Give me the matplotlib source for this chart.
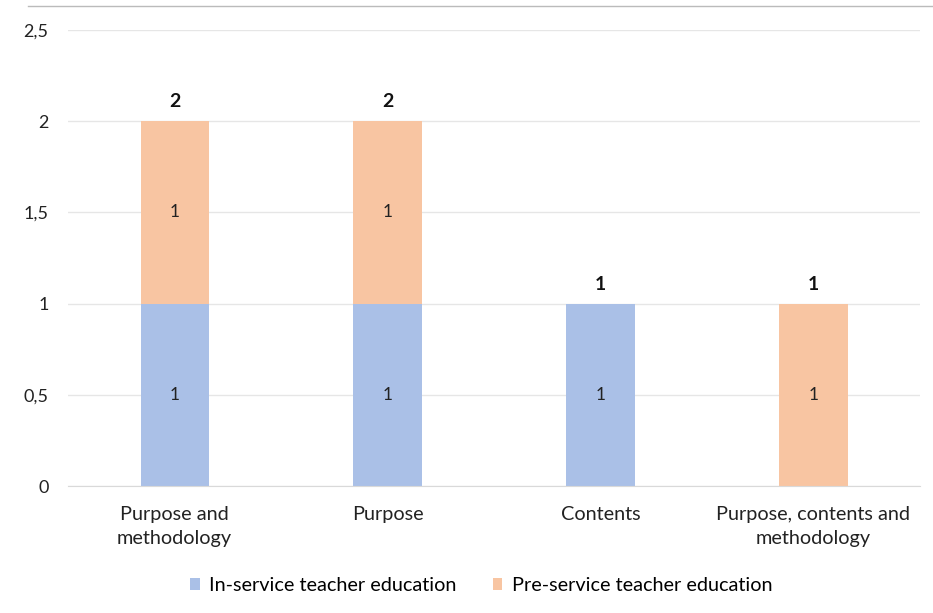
import matplotlib.pyplot as plt
from matplotlib.ticker import FuncFormatter

plt.rcParams['font.family'] = ['Lato', 'DejaVu Sans']

categories = ['Purpose and\nmethodology', 'Purpose', 'Contents', 'Purpose, contents and\nmethodology']
in_service = [1, 1, 1, 0]
pre_service = [1, 1, 0, 1]
totals = [a + b for a, b in zip(in_service, pre_service)]

blue = '#AAC0E7'
orange = '#F8C5A2'

fig = plt.figure(figsize=(9.33, 6.13), dpi=100)
ax = fig.add_axes([0.073, 0.207, 0.913, 0.744])

x = range(len(categories))
width = 0.32
b1 = ax.bar(x, in_service, width, color=blue, label='In-service teacher education', zorder=2)
b2 = ax.bar(x, pre_service, width, bottom=in_service, color=orange,
            label='Pre-service teacher education', zorder=2)

for i in x:
    if in_service[i]:
        ax.text(i, in_service[i] / 2, str(in_service[i]), ha='center', va='center',
                fontsize=12.5, color='#222222')
    if pre_service[i]:
        ax.text(i, in_service[i] + pre_service[i] / 2, str(pre_service[i]), ha='center',
                va='center', fontsize=12.5, color='#222222')
    ax.text(i, totals[i] + 0.06, str(totals[i]), ha='center', va='bottom',
            fontsize=14, fontweight='bold', color='#111111')

ax.set_xlim(-0.5, 3.5)
ax.set_ylim(0, 2.5)
ax.set_yticks([0, 0.5, 1, 1.5, 2, 2.5])
ax.yaxis.set_major_formatter(FuncFormatter(lambda v, p: ('%g' % v).replace('.', ',')))
ax.set_xticks(list(x))
ax.set_xticklabels(categories, fontsize=14.3, color='#222222', linespacing=1.5)
ax.tick_params(axis='y', labelsize=13, colors='#222222', length=0, pad=14)
ax.tick_params(axis='x', length=0, pad=14)
ax.grid(axis='y', color='#E6E6E6', linewidth=1, zorder=0)
for s in ['top', 'right', 'left']:
    ax.spines[s].set_visible(False)
ax.spines['bottom'].set_color('#D9D9D9')

fig.add_artist(plt.Line2D([0.03, 1.0], [0.99, 0.99], color='#BBBBBB', linewidth=1))

ax.legend(loc='upper center', bbox_to_anchor=(0.485, -0.16), ncol=2, frameon=False,
          fontsize=14.3, handlelength=0.5, handleheight=0.5, columnspacing=1.8,
          handletextpad=0.5)

fig.savefig('out.png', dpi=100)
